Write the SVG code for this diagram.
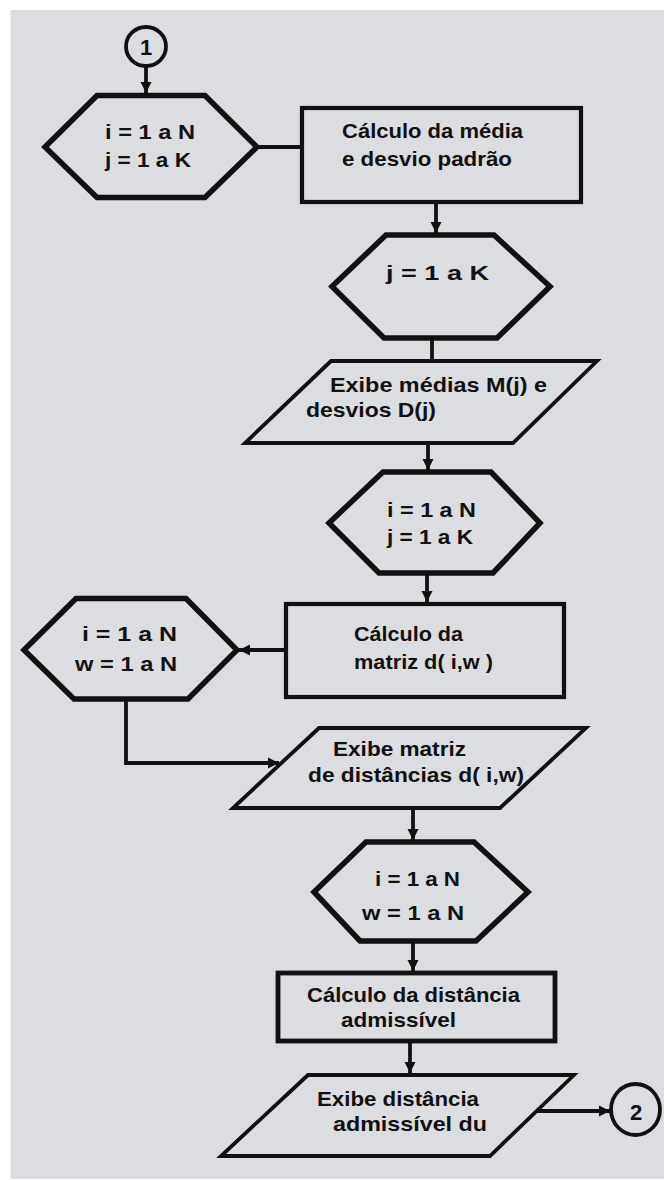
<svg xmlns="http://www.w3.org/2000/svg" width="664" height="1180" viewBox="0 0 664 1180">
<style>
  .hex{fill:none;stroke:#111;stroke-width:5.5;stroke-linejoin:miter}
  .box{fill:none;stroke:#111;stroke-width:4.2}
  .io{fill:none;stroke:#111;stroke-width:3.8;stroke-linejoin:miter}
  .con{fill:none;stroke:#111;stroke-width:3.8}
  .ln{fill:none;stroke:#111;stroke-width:3.8}
  text{font-family:"Liberation Sans","Arial",sans-serif;font-weight:bold;font-size:20.5px;fill:#111}
  .big{font-size:22px}
</style>
<defs>
  <marker id="arr" viewBox="0 0 10 10" refX="10" refY="5" markerUnits="userSpaceOnUse" markerWidth="11" markerHeight="14" orient="auto">
    <path d="M0,0 L10,5 L0,10 z" fill="#111"/>
  </marker>
</defs>
<rect x="0" y="0" width="664" height="1180" fill="#ffffff"/>
<rect x="10.5" y="10" width="654" height="1169" fill="#dcdde0"/>

<g id="connectors">
  <line class="ln" x1="146" y1="66" x2="146" y2="93" marker-end="url(#arr)"/>
  <line class="ln" x1="257" y1="147" x2="302" y2="147"/>
  <line class="ln" x1="436" y1="202" x2="436" y2="233" marker-end="url(#arr)"/>
  <line class="ln" x1="432" y1="338" x2="432" y2="361"/>
  <line class="ln" x1="428" y1="443" x2="428" y2="470" marker-end="url(#arr)"/>
  <line class="ln" x1="427" y1="573" x2="427" y2="602" marker-end="url(#arr)"/>
  <line class="ln" x1="286" y1="650" x2="239" y2="650" marker-end="url(#arr)"/>
  <path class="ln" d="M126,699 V763 H279" marker-end="url(#arr)"/>
  <line class="ln" x1="413" y1="808" x2="413" y2="840" marker-end="url(#arr)"/>
  <line class="ln" x1="413" y1="941" x2="413" y2="971" marker-end="url(#arr)"/>
  <line class="ln" x1="410" y1="1041" x2="410" y2="1073" marker-end="url(#arr)"/>
  <line class="ln" x1="537" y1="1111" x2="610" y2="1111" marker-end="url(#arr)"/>
</g>

<g id="start1">
  <ellipse class="con" cx="146" cy="46.5" rx="20" ry="19.5"/>
  <text class="big" x="146" y="55" text-anchor="middle">1</text>
</g>

<g id="loop1">
  <polygon class="hex" points="45,147 97,95.5 205,95.5 257,147 205,197.5 97,197.5"/>
  <text x="105" y="139" textLength="90" lengthAdjust="spacingAndGlyphs">i = 1 a N</text>
  <text x="105" y="167" textLength="86" lengthAdjust="spacingAndGlyphs">j = 1 a K</text>
</g>

<g id="calcMedia">
  <rect class="box" x="302" y="108" width="279" height="94"/>
  <text x="342" y="138" textLength="181" lengthAdjust="spacingAndGlyphs">Cálculo da média</text>
  <text x="342" y="166" textLength="170" lengthAdjust="spacingAndGlyphs">e desvio padrão</text>
</g>

<g id="loop2">
  <polygon class="hex" points="332,286.5 386,235 494,235 550,286.5 497,338 384,338"/>
  <text x="386" y="280" textLength="103" lengthAdjust="spacingAndGlyphs">j = 1 a K</text>
</g>

<g id="showMedias">
  <polygon class="io" points="331,361 597,361 513,443 245,443"/>
  <text x="330" y="392" textLength="217" lengthAdjust="spacingAndGlyphs">Exibe médias M(j) e</text>
  <text x="306" y="417" textLength="130" lengthAdjust="spacingAndGlyphs">desvios D(j)</text>
</g>

<g id="loop3">
  <polygon class="hex" points="329,523 383,472 491,472 540,523 493,573 379,573"/>
  <text x="387" y="517" textLength="89" lengthAdjust="spacingAndGlyphs">i = 1 a N</text>
  <text x="387" y="544" textLength="86" lengthAdjust="spacingAndGlyphs">j = 1 a K</text>
</g>

<g id="calcMatriz">
  <rect class="box" x="286" y="604" width="278" height="93"/>
  <text x="354" y="641" textLength="109" lengthAdjust="spacingAndGlyphs">Cálculo da</text>
  <text x="354" y="669" textLength="139" lengthAdjust="spacingAndGlyphs">matriz d( i,w )</text>
</g>

<g id="loop4">
  <polygon class="hex" points="24,650 76,598.5 186,598.5 237,650 188,699 74,699"/>
  <text x="82" y="641" textLength="95" lengthAdjust="spacingAndGlyphs">i = 1 a N</text>
  <text x="75" y="671" textLength="102" lengthAdjust="spacingAndGlyphs">w = 1 a N</text>
</g>

<g id="showMatriz">
  <polygon class="io" points="319,728 586,728 500,808 233,808"/>
  <text x="333" y="756" textLength="133" lengthAdjust="spacingAndGlyphs">Exibe matriz</text>
  <text x="308" y="782" textLength="216" lengthAdjust="spacingAndGlyphs">de distâncias d( i,w)</text>
</g>

<g id="loop5">
  <polygon class="hex" points="314,892 366,842 474,842 528,892 476,941 360,941"/>
  <text x="375" y="886" textLength="85" lengthAdjust="spacingAndGlyphs">i = 1 a N</text>
  <text x="362" y="920" textLength="102" lengthAdjust="spacingAndGlyphs">w = 1 a N</text>
</g>

<g id="calcDist">
  <rect class="box" x="278" y="973" width="277" height="68" style="stroke-width:4.8"/>
  <text x="307" y="1002" textLength="213" lengthAdjust="spacingAndGlyphs">Cálculo da distância</text>
  <text x="341" y="1027" textLength="115" lengthAdjust="spacingAndGlyphs">admissível</text>
</g>

<g id="showDist">
  <polygon class="io" points="308,1075 574,1075 490,1156 221,1156"/>
  <text x="317" y="1106" textLength="162" lengthAdjust="spacingAndGlyphs">Exibe distância</text>
  <text x="333" y="1131" textLength="154" lengthAdjust="spacingAndGlyphs">admissível du</text>
</g>

<g id="end2">
  <ellipse class="con" cx="635.5" cy="1109.5" rx="24.5" ry="25.5"/>
  <text class="big" x="636" y="1120" text-anchor="middle">2</text>
</g>
</svg>
